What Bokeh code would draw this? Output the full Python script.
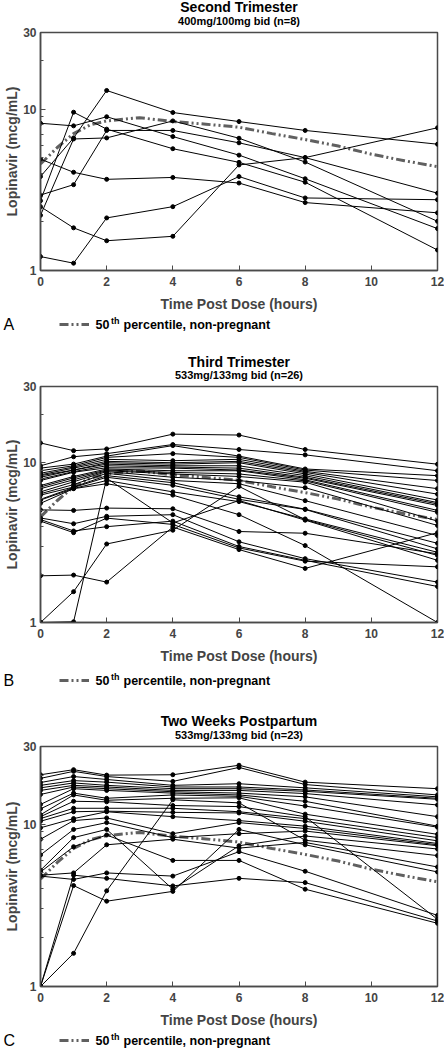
from bokeh.plotting import figure
from bokeh.models import FixedTicker, Label, Legend, LegendItem, Range1d, PrintfTickFormatter
from bokeh.layouts import column
from bokeh.embed import file_html
from bokeh.resources import INLINE

# ---------------- data ----------------
times_hours = [0, 1, 2, 4, 6, 8, 12]
x_tick_values = [0, 2, 4, 6, 8, 10, 12]
y_tick_values = [1, 10, 30]
y_minor_values = [2, 3, 4, 5, 6, 7, 8, 9, 20]

median_times = [0, 0.5, 1, 1.5, 2, 3, 4, 5, 6, 7, 8, 9, 10, 11, 12]
median_conc = [4.58, 5.78, 7.07, 8.0, 8.48, 8.88, 8.4, 8.09, 7.75, 7.07, 6.5, 5.92, 5.27, 4.8, 4.41]

second_trimester = [
    [8.2, 7.9, 9.0, 6.78, 5.2, 3.71, 1.82],
    [4.91, 4.07, 3.68, 3.78, 3.49, 2.64, 2.28],
    [3.83, 6.65, 13.1, 9.56, 8.4, 7.4, 6.08],
    [2.94, 3.41, 7.4, 7.4, 6.2, 5.02, 3.02],
    [2.71, 9.6, 7.54, 5.7, 4.69, 3.53, 1.34],
    [2.49, 1.84, 1.53, 1.63, 4.52, 5.02, 7.69],
    [2.2, 6.55, 6.65, 8.48, 6.62, 4.71, 2.02],
    [1.22, 1.11, 2.12, 2.49, 3.83, 2.82, 2.75],
]

third_trimester = [
    [13.3, 11.9, 12.2, 15.1, 14.9, 12.1, 9.79],
    [9.57, 10.9, 11.4, 13.0, 12.1, 11.2, 8.91],
    [9.25, 9.8, 11.0, 12.8, 11.0, 9.14, 8.3],
    [8.91, 9.57, 10.8, 11.4, 10.8, 9.0, 7.74],
    [8.59, 9.4, 10.5, 10.3, 10.5, 8.84, 6.88],
    [8.4, 9.25, 10.2, 10.0, 10.2, 8.7, 6.36],
    [8.3, 9.0, 10.0, 9.8, 10.0, 8.51, 5.84],
    [8.11, 8.99, 9.8, 9.57, 9.57, 8.3, 5.63],
    [7.9, 8.8, 9.57, 9.4, 9.25, 8.11, 5.52],
    [7.74, 8.72, 9.3, 9.25, 9.0, 8.0, 5.4],
    [7.2, 8.2, 9.14, 8.91, 8.91, 7.82, 5.03],
    [7.05, 8.04, 9.0, 8.7, 8.51, 7.7, 4.89],
    [6.88, 7.82, 8.91, 8.51, 8.2, 7.56, 4.31],
    [6.57, 7.6, 8.8, 8.11, 7.74, 6.98, 4.05],
    [6.4, 7.3, 8.59, 7.74, 7.39, 5.79, 3.5],
    [6.27, 7.05, 8.3, 7.5, 6.12, 5.12, 3.13],
    [5.9, 7.0, 8.11, 7.22, 5.9, 5.1, 2.89],
    [5.84, 6.9, 7.74, 6.57, 5.71, 4.45, 2.75],
    [5.57, 6.88, 7.39, 6.27, 4.73, 3.03, 1.0],
    [5.07, 5.03, 5.2, 5.15, 3.71, 3.62, 2.69],
    [4.51, 4.15, 4.62, 4.73, 3.2, 2.51, 1.79],
    [4.41, 3.74, 3.98, 4.31, 2.99, 2.45, 1.68],
    [4.31, 3.65, 4.5, 4.11, 2.93, 2.42, 2.23],
    [1.96, 1.98, 1.79, 3.96, 2.86, 2.18, 3.65],
    [1.0, 1.56, 3.1, 3.78, 7.11, 4.4, 2.63],
    [1.0, 1.01, 8.0, 4.2, 5.8, 4.37, 2.45],
]

postpartum = [
    [20.1, 21.6, 20.0, 20.1, 23.0, 18.1, 16.5],
    [19.1, 21.1, 19.6, 18.3, 22.3, 17.5, 15.1],
    [18.0, 19.6, 18.8, 17.3, 17.7, 16.7, 14.7],
    [17.3, 18.5, 18.1, 16.9, 16.9, 16.2, 14.4],
    [16.7, 17.9, 17.3, 16.5, 16.5, 15.9, 14.2],
    [16.1, 17.3, 16.9, 16.1, 16.1, 15.4, 13.1],
    [15.2, 16.9, 16.5, 15.8, 15.5, 14.7, 11.1],
    [13.2, 16.5, 16.1, 15.5, 15.1, 13.8, 9.7],
    [12.4, 15.5, 14.4, 15.1, 14.8, 12.9, 9.56],
    [11.4, 15.1, 14.0, 14.4, 14.5, 11.5, 8.64],
    [11.1, 13.8, 13.7, 13.0, 12.8, 11.1, 2.59],
    [10.8, 12.5, 12.5, 12.5, 11.9, 10.8, 8.25],
    [10.4, 11.9, 12.0, 11.8, 11.7, 10.4, 7.88],
    [9.48, 10.8, 11.9, 11.1, 10.5, 9.7, 7.59],
    [8.06, 10.5, 10.9, 8.72, 10.2, 9.39, 7.45],
    [6.45, 9.26, 10.2, 8.25, 8.72, 9.05, 7.35],
    [5.19, 8.25, 9.26, 3.97, 7.35, 8.44, 7.02],
    [5.07, 7.25, 8.56, 5.97, 5.97, 3.97, 2.45],
    [4.84, 5.0, 7.45, 8.06, 7.11, 7.7, 5.44],
    [4.78, 4.56, 5.0, 4.78, 6.76, 5.12, 2.74],
    [1.0, 4.84, 4.63, 4.16, 4.63, 4.36, 2.53],
    [1.0, 4.18, 3.35, 3.85, 9.26, 7.45, 5.07],
    [1.0, 1.6, 3.88, 14.1, 13.5, 7.95, 6.39],
]

panel_titles = ["Second Trimester", "Third Trimester", "Two Weeks Postpartum"]
panel_subtitles = ["400mg/100mg bid (n=8)", "533mg/133mg bid (n=26)", "533mg/133mg bid (n=23)"]
panel_letters = ["A", "B", "C"]
x_label = "Time Post Dose (hours)"
y_label = "Lopinavir (mcg/mL)"
legend_text = "percentile, non-pregnant"

# ---------------- layout ----------------
W = 444
FONT = "Liberation Sans"
AXIS_COLOR = "#4a4a4a"
MED_COLOR = "#606060"
MED_DASH = "9 3 2 3 2 3"
TITLE_X = 238.5

geom = [
    dict(hh=27, ty=6, sy=20, fh=243, foot=26, ly=10),
    dict(hh=41, ty=21, sy=34.5, fh=241, foot=30, ly=14),
    dict(hh=45, ty=24, sy=38, fh=245, foot=20, ly=10),
]


def no_align(p):
    try:
        p.frame_align = False
    except Exception:
        pass


def strip(h):
    p = figure(width=W, height=h, x_range=Range1d(0, W), y_range=Range1d(h, 0),
               x_axis_location=None, y_axis_location=None, output_backend="svg",
               toolbar_location=None, min_border=0, min_border_left=0, min_border_right=0,
               min_border_top=0, min_border_bottom=0,
               background_fill_color="white", border_fill_color="white")
    p.outline_line_color = None
    p.xgrid.visible = False
    p.ygrid.visible = False
    no_align(p)
    return p


def add_label(p, text, x, y, size, bold=True, align="center", font=FONT):
    p.add_layout(Label(x=x, y=y, text=text, text_font=font, text_font_size=size,
                       text_font_style="bold" if bold else "normal",
                       text_align=align, text_baseline="middle", text_color="black"))


def header(i):
    g = geom[i]
    p = strip(g["hh"])
    add_label(p, panel_titles[i], TITLE_X, g["ty"], "14px")
    add_label(p, panel_subtitles[i], TITLE_X, g["sy"], "11px")
    return p


def footer(i):
    g = geom[i]
    h = g["foot"]
    p = strip(h)
    ly = g["ly"]
    add_label(p, panel_letters[i], 3, ly, "16px", bold=False, align="left")
    add_label(p, "50", 95, ly, "12.5px", align="left")
    add_label(p, "th", 110.5, ly - 4, "9px", align="left")
    add_label(p, legend_text, 123, ly, "12.5px", align="left")
    # hidden copy of the median renderer, used only for the legend key
    swatch = p.line(median_times, median_conc, line_color=MED_COLOR, line_width=3,
                    line_dash=MED_DASH, visible=False)
    legend = Legend(items=[LegendItem(label=" ", renderers=[swatch])],
                    location=(59, h - ly - 5), click_policy="none",
                    glyph_width=30, glyph_height=10, label_width=0, label_height=10,
                    label_standoff=0, padding=0, margin=0, spacing=0,
                    background_fill_alpha=0, border_line_alpha=0,
                    label_text_font_size="1px", label_text_alpha=0)
    p.add_layout(legend)
    return p


def main_panel(i, subjects):
    g = geom[i]
    bt, bb = 5, 39
    h = bt + g["fh"] + bb
    p = figure(width=W, height=h, x_range=Range1d(0, 12), y_range=Range1d(1, 30),
               y_axis_type="log", output_backend="svg", toolbar_location=None,
               min_border_left=40, min_border_right=7, min_border_top=bt, min_border_bottom=bb,
               background_fill_color="white", border_fill_color="white")
    no_align(p)
    p.xgrid.visible = False
    p.ygrid.visible = False
    p.outline_line_color = AXIS_COLOR
    p.outline_line_width = 1.5

    p.xaxis.ticker = FixedTicker(ticks=x_tick_values, minor_ticks=[])
    p.yaxis.ticker = FixedTicker(ticks=y_tick_values, minor_ticks=y_minor_values)
    p.yaxis.formatter = PrintfTickFormatter(format="%d")
    for ax in (p.xaxis[0], p.yaxis[0]):
        ax.axis_line_color = AXIS_COLOR
        ax.axis_line_width = 1.5
        ax.major_tick_in = 5
        ax.major_tick_out = 0
        ax.minor_tick_in = 3
        ax.minor_tick_out = 0
        ax.major_tick_line_color = AXIS_COLOR
        ax.minor_tick_line_color = AXIS_COLOR
        ax.major_label_text_font = FONT
        ax.major_label_text_font_style = "bold"
        ax.major_label_text_font_size = "12px"
        ax.axis_label_text_font = FONT
        ax.axis_label_text_font_style = "bold"
        ax.axis_label_text_font_size = "14px"
    p.xaxis.major_label_standoff = 6
    p.xaxis.axis_label_standoff = 7
    p.xaxis.axis_label = x_label
    p.yaxis.major_label_standoff = 4
    p.yaxis.axis_label_standoff = 0
    p.yaxis.axis_label = y_label

    p.line(median_times, median_conc, line_color=MED_COLOR, line_width=3, line_dash=MED_DASH)
    for vals in subjects:
        p.line(times_hours, vals, line_color="black", line_width=1)
        p.scatter(times_hours, vals, size=4, color="black")
    return p


datasets = [second_trimester, third_trimester, postpartum]
children = []
for i, d in enumerate(datasets):
    children += [header(i), main_panel(i, d), footer(i)]

layout = column(*children, spacing=0)
open("out.html", "w").write(file_html(layout, INLINE))
